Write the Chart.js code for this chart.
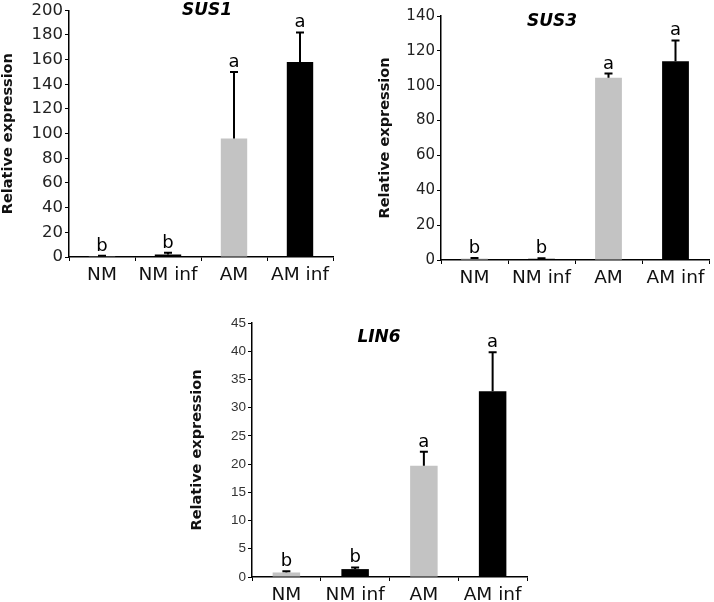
<!DOCTYPE html>
<html>
<head>
<meta charset="utf-8">
<script src="https://cdn.jsdelivr.net/npm/chart.js@4/dist/chart.umd.min.js"></script>
<style>
  body { margin: 0; background: #fff; }
  #wrap { position: relative; width: 714px; height: 602px; }
  .box { position: absolute; }
</style>
</head>
<body>
<div id="wrap">
  <div class="box" style="left:0;top:0;width:340px;height:290px"><canvas id="sus1"></canvas></div>
  <div class="box" style="left:360px;top:0;width:354px;height:290px"><canvas id="sus3"></canvas></div>
  <div class="box" style="left:180px;top:290px;width:360px;height:312px"><canvas id="lin6"></canvas></div>
</div>
<script>
const categories = ['NM', 'NM inf', 'AM', 'AM inf'];

const sus1Values = [0.6, 2, 96, 158];
const sus1Errors = [0.4, 1.5, 54, 24];
const sus1Letters = ['b', 'b', 'a', 'a'];

const sus3Values = [0.8, 0.7, 104.5, 114];
const sus3Errors = [0.4, 0.3, 2.5, 12];
const sus3Letters = ['b', 'b', 'a', 'a'];

const lin6Values = [0.8, 1.4, 19.7, 32.9];
const lin6Errors = [0.2, 0.3, 2.5, 6.9];
const lin6Letters = ['b', 'b', 'a', 'a'];

const barColors = ['#c3c3c3', '#000000', '#c3c3c3', '#000000'];

// error bars, significance letters and the italic gene title
const extras = {
  id: 'extras',
  afterDatasetsDraw(chart, args, opts) {
    const ctx = chart.ctx;
    const y = chart.scales.y;
    const bars = chart.getDatasetMeta(0).data;
    ctx.save();
    ctx.strokeStyle = '#000';
    ctx.lineWidth = 2;
    bars.forEach((bar, i) => {
      const top = y.getPixelForValue(opts.values[i] + opts.errors[i]);
      ctx.beginPath();
      ctx.moveTo(bar.x, bar.y);
      ctx.lineTo(bar.x, top);
      ctx.moveTo(bar.x - 4, top);
      ctx.lineTo(bar.x + 4, top);
      ctx.stroke();
      ctx.fillStyle = '#000';
      ctx.font = '18px "DejaVu Sans"';
      ctx.textAlign = 'center';
      ctx.textBaseline = 'alphabetic';
      ctx.fillText(opts.letters[i], bar.x, top - 5);
    });
    ctx.font = 'italic bold 17px "DejaVu Sans"';
    ctx.textAlign = 'center';
    ctx.fillText(opts.title, opts.titleX, opts.titleY);
    ctx.restore();
  }
};

function makeChart(id, values, errors, letters, yMax, yStep, s) {
  new Chart(document.getElementById(id), {
    type: 'bar',
    data: {
      labels: categories,
      datasets: [{
        data: values,
        backgroundColor: barColors,
        borderWidth: 0,
        barPercentage: 0.4,
        categoryPercentage: 1
      }]
    },
    options: {
      responsive: true,
      maintainAspectRatio: false,
      animation: false,
      layout: { padding: s.padding },
      plugins: {
        legend: { display: false },
        tooltip: { enabled: false },
        extras: { values: values, errors: errors, letters: letters,
                  title: s.title, titleX: s.titleX, titleY: s.titleY }
      },
      scales: {
        x: {
          afterFit: (scale) => { scale.height = s.xHeight; },
          grid: { drawOnChartArea: false, tickLength: 4, color: '#000', lineWidth: 1 },
          border: { color: '#000', width: 1.5 },
          ticks: { font: { family: 'DejaVu Sans', size: 18.5 }, color: '#111', padding: 3,
                   autoSkip: false, maxRotation: 0, minRotation: 0 }
        },
        y: {
          min: 0,
          max: yMax,
          afterFit: (scale) => { scale.width = s.yWidth; },
          grid: { drawOnChartArea: false, tickLength: 4, color: '#000', lineWidth: 1 },
          border: { color: '#000', width: 1.5 },
          ticks: { stepSize: yStep, font: s.tickFont, color: s.tickColor, padding: 2 },
          title: {
            display: true,
            text: 'Relative expression',
            font: { family: 'DejaVu Sans', size: 14.5, weight: 'bold' },
            color: '#111',
            padding: { top: s.yTitlePad, bottom: 0 }
          }
        }
      }
    },
    plugins: [extras]
  });
}

makeChart('sus1', sus1Values, sus1Errors, sus1Letters, 200, 20, {
  padding: { left: 0, right: 7, top: 8, bottom: 0 },
  yWidth: 69, xHeight: 33, yTitlePad: 0,
  tickFont: { family: 'DejaVu Sans', size: 16.5, lineHeight: 1 }, tickColor: '#222',
  title: 'SUS1', titleX: 207, titleY: 15
});

makeChart('sus3', sus3Values, sus3Errors, sus3Letters, 140, 20, {
  padding: { left: 0, right: 5, top: 16, bottom: 0 },
  yWidth: 81, xHeight: 30, yTitlePad: 17,
  tickFont: { family: 'DejaVu Sans', size: 15, lineHeight: 1 }, tickColor: '#222',
  title: 'SUS3', titleX: 192, titleY: 26
});

makeChart('lin6', lin6Values, lin6Errors, lin6Letters, 45, 5, {
  padding: { left: 0, right: 13, top: 33, bottom: 0 },
  yWidth: 72, xHeight: 25, yTitlePad: 9,
  tickFont: { family: 'Liberation Sans', size: 13.5, lineHeight: 1 }, tickColor: '#333',
  title: 'LIN6', titleX: 199, titleY: 52
});
</script>
</body>
</html>
